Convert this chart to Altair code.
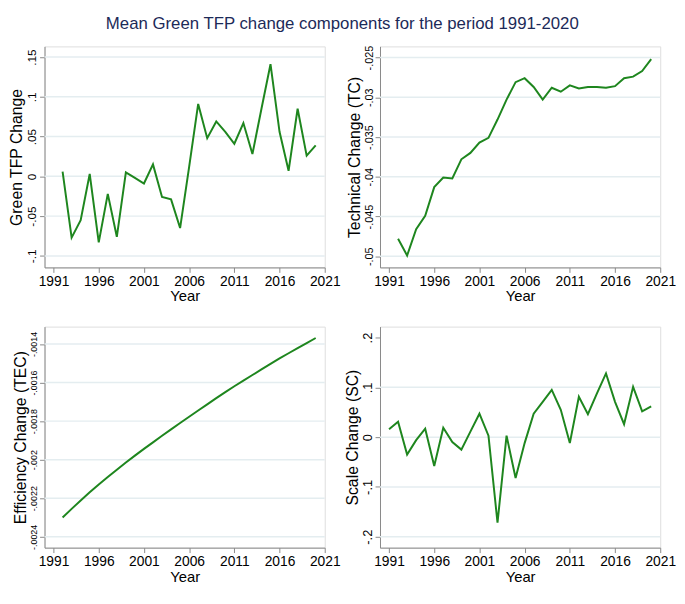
import altair as alt
import pandas as pd

# ---------------- data ----------------
years_a = list(range(1992, 2021))          # panels 1-3
years_b = list(range(1991, 2021))          # panel 4

green_tfp = [0.006, -0.077, -0.055, 0.003, -0.083, -0.022, -0.076, 0.005, -0.002, -0.009,
             0.015, -0.026, -0.029, -0.065, 0.012, 0.091, 0.048, 0.069, 0.056, 0.041,
             0.067, 0.028, 0.085, 0.141, 0.056, 0.007, 0.085, 0.026, 0.039]

tech_change = [-0.0478, -0.0499, -0.0466, -0.0449, -0.0413, -0.0401, -0.0402, -0.0378, -0.0370, -0.0357,
               -0.0351, -0.0328, -0.0303, -0.0281, -0.0276, -0.0287, -0.0303, -0.0288, -0.0293, -0.0285,
               -0.0289, -0.0287, -0.0287, -0.0288, -0.0286, -0.0276, -0.0274, -0.0267, -0.0252]

eff_change = [-0.002300, -0.002255, -0.002212, -0.002169, -0.002128, -0.002090, -0.002052, -0.002015,
              -0.001979, -0.001944, -0.001910, -0.001876, -0.001843, -0.001810, -0.001777, -0.001745,
              -0.001713, -0.001681, -0.001650, -0.001619, -0.001590, -0.001561, -0.001532, -0.001503,
              -0.001475, -0.001448, -0.001421, -0.001395, -0.001369]

scale_change = [0.016, 0.031, -0.035, -0.006, 0.017, -0.058, 0.019, -0.010, -0.025, 0.011,
                0.047, 0.003, -0.172, 0.003, -0.082, -0.012, 0.047, 0.071, 0.095, 0.055,
                -0.012, 0.081, 0.046, 0.088, 0.128, 0.071, 0.026, 0.101, 0.052, 0.062]

x_ticks = [1991, 1996, 2001, 2006, 2011, 2016, 2021]

ticks_tfp = [-0.1, -0.05, 0, 0.05, 0.1, 0.15]
ticks_tc = [-0.05, -0.045, -0.04, -0.035, -0.03, -0.025]
ticks_tec = [-0.0024, -0.0022, -0.002, -0.0018, -0.0016, -0.0014]
ticks_sc = [-0.2, -0.1, 0, 0.1, 0.2]
grid_sc = [-0.2, -0.1, 0, 0.1]

main_title = "Mean Green TFP change components for the period 1991-2020"

# ---------------- style ----------------
GREEN = "#1e861e"
GRID = "#e4edf0"
NAVY = "#1c2a58"
SANS = "Liberation Sans, Arial, sans-serif"
W, H = 284, 224

label_expr = "datum.value == 0 ? '0' : replace(toString(datum.value), '0.', '.')"


def panel(years, values, ytitle, domain, ticks, grid, label_size):
    df = pd.DataFrame({"Year": years, "v": values})
    gdf = pd.DataFrame({"v": grid})
    yaxis = alt.Axis(values=ticks, labelExpr=label_expr, title=ytitle, grid=False,
                     labelAngle=270, labelAlign="center", labelBaseline="bottom",
                     labelFontSize=label_size, labelFont=SANS, labelPadding=1,
                     labelOverlap=False, labelFlush=False,
                     titleFont=SANS, titleFontSize=16, titleFontWeight="normal",
                     titlePadding=1, tickSize=5)
    yscale = alt.Scale(domain=domain, nice=False, zero=False)
    xscale = alt.Scale(domain=[1990, 2021], nice=False, zero=False)
    xaxis = alt.Axis(values=x_ticks, format="d", title="Year", grid=False,
                     labelFont=SANS, labelFontSize=14, labelPadding=2,
                     labelOverlap=False, labelFlush=False,
                     titleFont=SANS, titleFontSize=15, titleFontWeight="normal",
                     titlePadding=1, tickSize=5)
    rules = alt.Chart(gdf).mark_rule(color=GRID, strokeWidth=1.5).encode(
        y=alt.Y("v:Q", scale=yscale, axis=yaxis)
    )
    line = alt.Chart(df).mark_line(color=GREEN, strokeWidth=2).encode(
        x=alt.X("Year:Q", scale=xscale, axis=xaxis),
        y=alt.Y("v:Q", scale=yscale, axis=yaxis),
    )
    return alt.layer(rules, line).properties(width=W, height=H)


p1 = panel(years_a, green_tfp, "Green TFP Change", [-0.1145, 0.1634], ticks_tfp, ticks_tfp, 12)
p2 = panel(years_a, tech_change, "Technical Change (TC)", [-0.0514, -0.0236], ticks_tc, ticks_tc, 11)
p3 = panel(years_a, eff_change, "Efficiency Change (TEC)", [-0.002456, -0.00131], ticks_tec, ticks_tec, 9)
p4 = panel(years_b, scale_change, "Scale Change (SC)", [-0.222, 0.222], ticks_sc, grid_sc, 13)

chart = alt.concat(
    p1, p2, p3, p4, columns=2,
    spacing=alt.RowColnumber(row=60, column=56),
    bounds="flush",
).properties(
    title=alt.TitleParams(main_title, anchor="middle", font=SANS, fontSize=17,
                          fontWeight="normal", color=NAVY, offset=12),
    padding={"left": 0, "right": 0, "top": 3, "bottom": 0},
).configure_view(stroke=None).configure_axis(
    domainColor="#111111", domainWidth=1.2, tickColor="#111111", tickWidth=1.2,
    labelColor="#000000", titleColor="#000000"
).configure(background="white")

chart.save("out.html", embed_options={"renderer": "svg", "actions": False})
